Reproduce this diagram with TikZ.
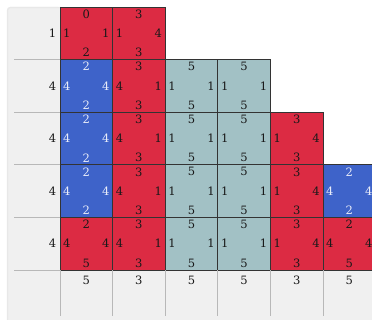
\documentclass[tikz,border=0pt]{standalone}
\usepackage{fontspec}
\setmainfont{DejaVu Serif}
\usepackage{tikz}
\usetikzlibrary{positioning,calc}
\definecolor{tileR}{HTML}{DC2B43}
\definecolor{tileB}{HTML}{3E63C9}
\definecolor{tileT}{HTML}{A2C1C5}
\colorlet{txtR}{black!90}
\colorlet{txtB}{white!88!tileB}
\colorlet{txtT}{black!90}
\definecolor{panel}{HTML}{F0F0F0}
\definecolor{gridln}{HTML}{B8B8B8}

\begin{document}
\begin{tikzpicture}[x=1pt,y=-1pt,
  tile/.style={draw=black!80,line width=0.8pt,minimum size=52.6pt,inner sep=0pt,outer sep=0pt},
  num/.style={font=\fontsize{11.5}{13}\selectfont,inner sep=0pt},
  hdr/.style={num,text=black!90},
  gl/.style={draw=gridln,line width=0.8pt}]
\useasboundingbox (0,0) rectangle (372,320);
% grey header column and footer row
\fill[panel,rounded corners=3pt] (7,7) rectangle (61,340);
\fill[panel] (7,269) rectangle (390,340);
\draw[black!9,line width=1.2pt,rounded corners=3pt] (7.5,340) -- (7.5,7.5) -- (61,7.5);
% tiles: row/col/colour/top/left/right/bottom
\foreach \r/\c/\k/\n/\w/\e/\s in {
  1/1/R/0/1/1/2, 1/2/R/3/1/4/3,
  2/1/B/2/4/4/2, 2/2/R/3/4/1/3, 2/3/T/5/1/1/5, 2/4/T/5/1/1/5,
  3/1/B/2/4/4/2, 3/2/R/3/4/1/3, 3/3/T/5/1/1/5, 3/4/T/5/1/1/5, 3/5/R/3/1/4/3,
  4/1/B/2/4/4/2, 4/2/R/3/4/1/3, 4/3/T/5/1/1/5, 4/4/T/5/1/1/5, 4/5/R/3/1/4/3, 4/6/B/2/4/4/2,
  5/1/R/2/4/4/5, 5/2/R/3/4/1/3, 5/3/T/5/1/1/5, 5/4/T/5/1/1/5, 5/5/R/3/1/4/3, 5/6/R/2/4/4/5}{
  \node[tile,fill=tile\k] (t\r\c) at ({60+(\c-0.5)*52.6},{7+(\r-0.5)*52.6}) {};
  \node[num,text=txt\k,below=2.5pt of t\r\c.north] {\n};
  \node[num,text=txt\k,right=3pt of t\r\c.west] {\w};
  \node[num,text=txt\k,left=3pt of t\r\c.east] {\e};
  \node[num,text=txt\k,above=2.5pt of t\r\c.south] {\s};
}
% row labels
\foreach \r/\l in {1/1,2/4,3/4,4/4,5/4}{
  \node[hdr,left=3.5pt of t\r1] (row\r) {\l};
  \draw[gl] (t\r1.south west) -- ++(-46,0);
}
% column labels
\foreach \c/\l in {1/5,2/3,3/5,4/5,5/3,6/5}{
  \node[hdr,below=5.5pt of t5\c] (col\c) {\l};
  \draw[gl] (t5\c.south west) -- ++(0,46);
}
\end{tikzpicture}
\end{document}
